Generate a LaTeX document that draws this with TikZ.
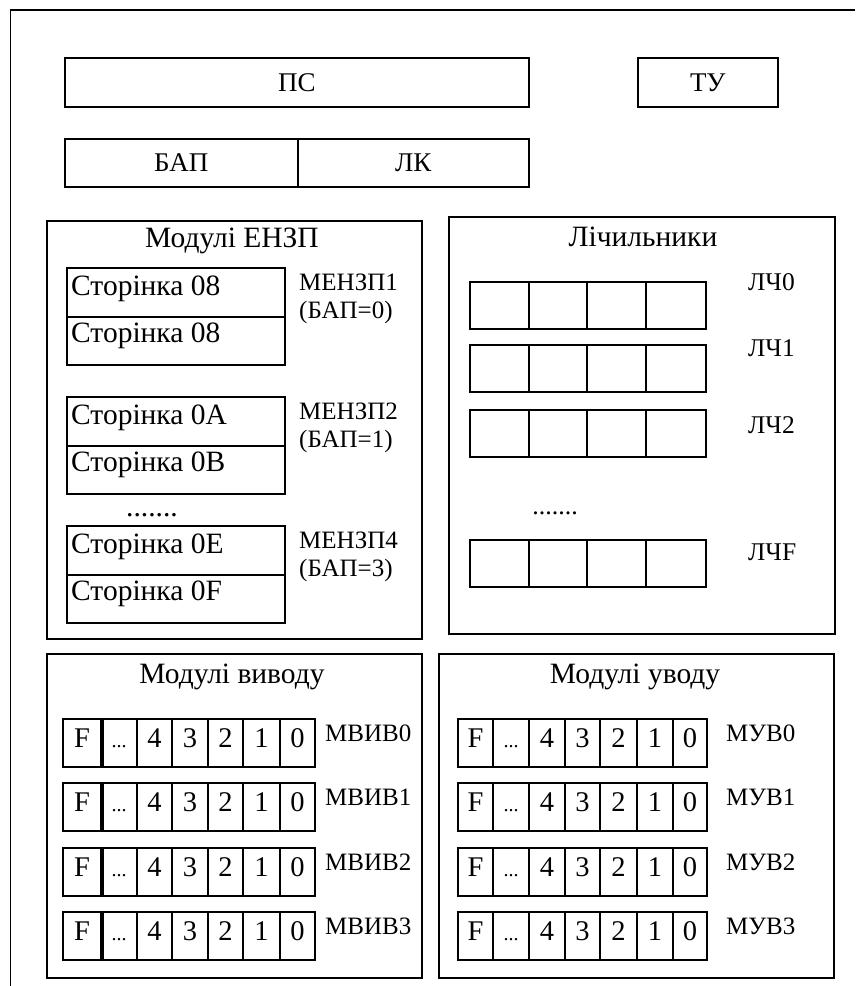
\documentclass[tikz,border=0pt]{standalone}
\usepackage{fontspec}
\setmainfont{Liberation Serif}
\newcommand\fA{\fontsize{27}{29}\selectfont}
\newcommand\fT{\fontsize{29.5}{31}\selectfont}
\newcommand\fC{\fontsize{28.5}{30}\selectfont}
\newcommand\fL{\fontsize{25}{27}\selectfont}
\newcommand\fD{\fontsize{20}{22}\selectfont}
\tikzset{
  ln/.style={line width=1.6pt},
  box/.style={draw, line width=1.6pt, inner sep=0pt, anchor=north west},
  cellbox/.style={draw, line width=1.6pt, inner sep=0pt, minimum height=48pt, text height=19pt, text depth=11pt, font=\fC},
  ttl/.style={anchor=base, inner sep=0pt, font=\fT},
  lbl/.style={anchor=base west, inner sep=0pt, font=\fL},
  pg/.style={anchor=base west, inner sep=0pt, font=\fT},
  thickdiv/.style={line width=3.5pt}
}
\begin{document}
\begin{tikzpicture}[x=1pt,y=-1pt]
\useasboundingbox (0,0) rectangle (855,986);
% outer frame
\coordinate (o1) at (10.5,986);
\coordinate (o2) at (10.5,10);
\coordinate (o3) at (855,10);
\draw[ln] (o1) -- (o2) -- (o3);

% top
\node[box, minimum width=464pt, minimum height=49pt, font=\fA] (ps) at (64,57) {ПС};
\node[box, minimum width=140pt, minimum height=49pt, font=\fA] (tu) at (637,57) {ТУ};
\node[box, minimum width=233pt, minimum height=48pt, font=\fA] (bap) at (64,138) {БАП};
\node[box, minimum width=231pt, minimum height=48pt, font=\fA] (lk) at (297,138) {ЛК};

% ENZP modules
\node[box, minimum width=375pt, minimum height=418pt] (enzp) at (46,220) {};
\node[ttl] (enzpt) at (232,247) {Модулі ЕНЗП};
\foreach \g/\t/\pa/\pb/\na/\nb in {1/267/08/08/МЕНЗП1/(БАП=0), 2/396/0A/0B/МЕНЗП2/(БАП=1), 3/525/0E/0F/МЕНЗП4/(БАП=3)}{
  \node[box, minimum width=218pt, minimum height=49pt] (pa\g) at (66,\t) {};
  \node[box, minimum width=218pt, minimum height=48pt] (pb\g) at (66,\t+49) {};
  \node[pg] (pta\g) at (71,\t+28) {Сторінка \pa};
  \node[pg] (ptb\g) at (71,\t+75) {Сторінка \pb};
  \node[lbl] (la\g) at (299,\t+23) {\na};
  \node[lbl] (lb\g) at (299,\t+51) {\nb};
}
\node[anchor=base, inner sep=0pt, font=\fT] (edots) at (152,516) {.......};

% counters
\node[box, minimum width=386pt, minimum height=417pt] (lch) at (448,216) {};
\node[ttl] (lcht) at (643,246) {Лічильники};
\foreach \r/\t/\nm/\bl in {0/281/ЛЧ0/290, 1/344/ЛЧ1/356, 2/409/ЛЧ2/433, 3/539/ЛЧF/560}{
  \foreach \c/\a/\b in {0/469/528, 1/528/586, 2/586/645, 3/645/705}{
    \node[box, minimum width={(\b-\a)*1pt}, minimum height=47pt] (lc\r-\c) at (\a,\t) {};
  }
  \node[lbl, font=\fontsize{25.5}{27}\selectfont] (lcl\r) at (748,\bl) {\nm};
}
\node[anchor=base, inner sep=0pt, font=\fontsize{26}{28}\selectfont] (cdots) at (555,514) {.......};

% output modules
\node[box, minimum width=375pt, minimum height=324pt] (vyv) at (46,653) {};
\node[ttl] (vyvt) at (232,683) {Модулі виводу};
% input modules
\node[box, minimum width=395pt, minimum height=324pt] (uv) at (438,653) {};
\node[ttl] (uvt) at (635,683) {Модулі уводу};

\foreach \r/\t in {0/719, 1/783, 2/848, 3/912}{
  \foreach \c/\a/\b/\tx in {0/63/101/F, 1/101/137/{\fD...}, 2/137/172/4, 3/172/208/3, 4/208/243/2, 5/243/280/1, 6/280/315/0}{
    \node[cellbox, minimum width={(\b-\a)*1pt}] (v\r-\c) at ({(\a+\b)/2},{\t+24}) {\tx};
  }
  \draw[thickdiv] (v\r-0.north east) -- (v\r-0.south east);
  \node[lbl] (vl\r) at (325,\t+22) {МВИВ\r};
  \foreach \c/\a/\b/\tx in {0/458/493/F, 1/493/529/{\fD...}, 2/529/565/4, 3/565/600/3, 4/600/637/2, 5/637/673/1, 6/673/707/0}{
    \node[cellbox, minimum width={(\b-\a)*1pt}] (u\r-\c) at ({(\a+\b)/2},{\t+24}) {\tx};
  }
  \node[lbl] (ul\r) at (726,\t+22) {МУВ\r};
}
\end{tikzpicture}
\end{document}
